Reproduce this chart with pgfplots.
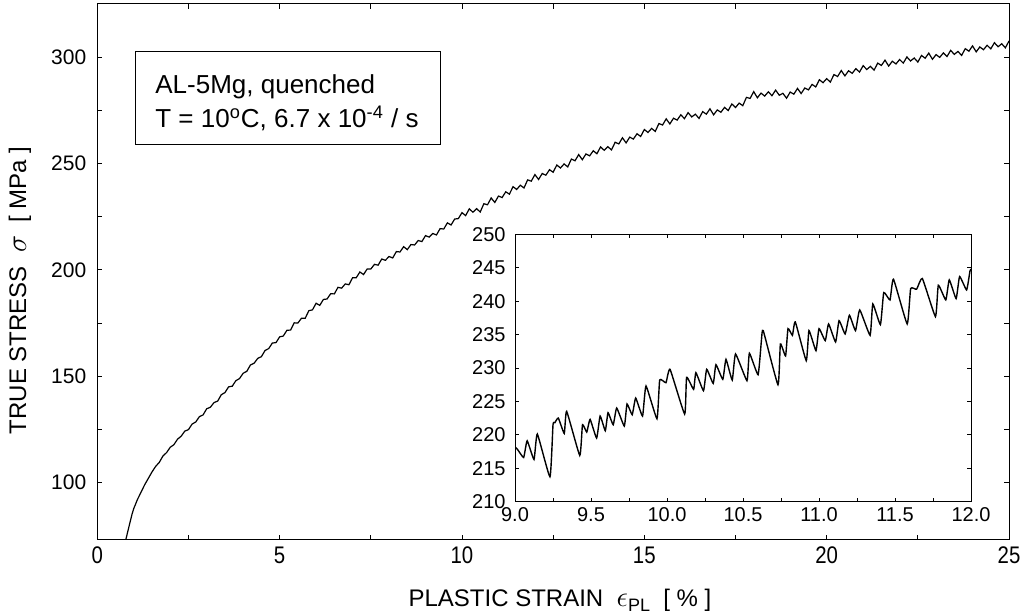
\documentclass[border=0pt]{standalone}
\usepackage{fontspec}
\setmainfont{Liberation Sans}
\usepackage{graphicx}
\usepackage{pgfplots}
\pgfplotsset{compat=1.18}

\begin{document}
\begin{tikzpicture}
\useasboundingbox (-48.65pt,-37pt) rectangle (466.85pt,270pt);
% main stress-strain curve
\begin{axis}[
  at={(0pt,0pt)}, anchor=south west,
  scale only axis, width=455.85pt, height=268pt,
  xmin=0, xmax=25, ymin=73, ymax=325,
  xtick={0,5,...,25}, ytick={100,150,...,300},
  minor x tick num=1, minor y tick num=1,
  tick align=inside, major tick length=2.5pt, minor tick length=2.5pt,
  every tick/.style={black, line width=0.4pt},
  axis line style={line width=0.5pt},
  /pgf/number format/assume math mode=true,
  yticklabel style={font=\fontsize{10.5}{12}\selectfont, xshift=-2pt},
  xticklabel={\scalebox{0.85}[1]{\pgfmathprintnumber{\tick}}},
  xticklabel style={font=\fontsize{12}{14}\selectfont},
  xlabel={PLASTIC STRAIN~~{\fontsize{14}{14}\selectfont$\epsilon$}\raisebox{-0.4ex}{\fontsize{9}{10}\selectfont PL}~~[ \% ]},
  ylabel={TRUE STRESS~~{\fontsize{15}{15}\selectfont$\sigma$}~~[ MPa ]},
  xlabel style={at={(axis description cs:0.5075,-0.112)}, anchor=center, font=\fontsize{12}{14}\selectfont},
  ylabel style={at={(axis description cs:-0.0848,0.466)}, anchor=center, font=\fontsize{12}{14}\selectfont},
]
\addplot[black, line width=0.6pt] table {
0.78 73
0.85 78
0.90 81.5
0.95 85
1.00 87.8
1.10 92
1.20 95.5
1.30 99
1.40 102
1.50 105
1.6 107.6
1.7 109.5
1.8 112.5
1.9 114.1
2.0 116.6
2.1 117.8
2.2 120.4
2.3 121.8
2.4 124.2
2.5 124.9
2.6 127.5
2.7 128.5
2.8 131.0
2.9 131.8
3.0 134.7
3.1 135.4
3.2 137.6
3.3 138.3
3.4 141.3
3.5 142.3
3.6 145.0
3.7 145.3
3.8 147.9
3.9 148.9
4.0 151.4
4.1 152.3
4.2 155.3
4.3 156.1
4.4 158.4
4.5 159.2
4.6 162.1
4.7 163.0
4.8 165.6
4.9 165.8
5.0 168.5
5.1 168.9
5.2 171.6
5.3 171.7
5.4 175.1
5.5 175.0
5.6 177.3
5.7 177.2
5.8 180.8
5.9 181.2
6.0 184.3
6.1 183.3
6.2 186.1
6.3 186.3
6.4 188.8
6.5 188.7
6.6 191.8
6.7 191.4
6.8 193.4
6.9 193.0
7.0 196.3
7.1 196.3
7.2 199.0
7.3 197.8
7.4 200.4
7.5 200.4
7.6 202.6
7.7 202.2
7.8 205.1
7.9 204.5
8.0 206.3
8.1 205.6
8.2 208.6
8.3 208.4
8.4 210.9
8.5 209.5
8.6 211.9
8.7 211.7
8.8 213.8
8.9 213.3
9.0 216.1
9.1 215.4
9.2 217.1
9.3 216.4
9.4 219.4
9.5 219.2
9.6 222.1
9.7 221.1
9.8 223.9
9.9 224.1
10.0 226.9
10.1 225.5
10.2 228.7
10.3 227.1
10.4 228.8
10.5 227.2
10.6 231.1
10.7 230.6
10.8 233.8
10.9 231.7
11.0 234.7
11.1 234.0
11.2 236.7
11.3 235.6
11.4 239.1
11.5 237.8
11.6 239.8
11.7 238.5
11.8 242.3
11.9 241.7
12.0 244.8
12.1 242.5
12.2 245.3
12.3 244.5
12.4 247.1
12.5 245.9
12.6 249.3
12.7 247.9
12.8 249.8
12.9 248.4
13.0 252.1
13.1 251.3
13.2 254.2
13.3 251.8
13.4 254.5
13.5 253.6
13.6 256.0
13.7 254.6
13.8 257.8
13.9 256.2
14.0 257.9
14.1 256.4
14.2 260.0
14.3 259.2
14.4 262.1
14.5 259.7
14.6 262.4
14.7 261.5
14.8 264.0
14.9 262.7
15.0 266.0
15.1 264.6
15.2 266.5
15.3 265.1
15.4 268.8
15.5 268.1
15.6 271.0
15.7 268.6
15.8 271.3
15.9 270.4
16.0 272.9
16.1 271.1
16.2 273.9
16.3 271.9
16.4 273.2
16.5 271.2
16.6 274.4
16.7 273.2
16.8 275.7
16.9 272.9
17.0 275.2
17.1 274.1
17.2 276.4
17.3 274.9
17.4 278.0
17.5 276.3
17.6 278.4
17.7 277.2
17.8 281.1
17.9 280.6
18.0 283.8
18.1 280.9
18.2 283.1
18.3 281.7
18.4 283.7
18.5 281.9
18.6 284.5
18.7 282.1
18.8 283.0
18.9 280.7
19.0 283.6
19.1 282.6
19.2 285.3
19.3 282.9
19.4 285.5
19.5 284.6
19.6 287.2
19.7 286.0
19.8 289.4
19.9 288.0
20.0 289.9
20.1 288.3
20.2 291.8
20.3 290.9
20.4 293.7
20.5 291.2
20.6 293.6
20.7 292.4
20.8 294.6
20.9 293.0
21.0 296.0
21.1 294.2
21.2 295.7
21.3 293.9
21.4 297.2
21.5 296.1
21.6 298.6
21.7 295.8
21.8 298.1
21.9 296.8
22.0 298.9
22.1 297.2
22.2 300.1
22.3 298.2
22.4 299.6
22.5 297.7
22.6 300.8
22.7 299.5
22.8 301.9
22.9 299.0
23.0 301.2
23.1 299.9
23.2 302.0
23.3 300.3
23.4 303.2
23.5 301.3
23.6 302.7
23.7 300.8
23.8 304.0
23.9 302.8
24.0 305.3
24.1 302.5
24.2 304.8
24.3 303.5
24.4 305.6
24.5 303.9
24.6 306.8
24.7 304.9
24.8 306.3
24.9 304.4
25.0 307.6
};
\end{axis}

% text box
\draw[line width=0.5pt] (18.85pt,197.5pt) rectangle (171.35pt,244.15pt);
\node[anchor=base west, inner sep=0pt, font=\fontsize{13}{15}\selectfont] at (28.85pt,223.35pt) {AL-5Mg, quenched};
\node[anchor=base west, inner sep=0pt, font=\fontsize{13}{15}\selectfont] at (28.85pt,206.2pt) {T = 10\textsuperscript{o}C, 6.7 x 10\textsuperscript{-4} / s};

% inset: serrations between 9 and 12 %
\begin{axis}[
  at={(208.85pt,19.25pt)}, anchor=south west,
  scale only axis, width=228pt, height=133.5pt,
  xmin=9, xmax=12, ymin=210, ymax=250,
  xtick={9,9.5,...,12}, ytick={210,215,...,250},
  minor x tick num=1,
  tick align=inside, major tick length=1.8pt, minor tick length=1.8pt,
  every tick/.style={black, line width=0.4pt},
  axis line style={line width=0.5pt},
  axis background/.style={fill=white},
  /pgf/number format/assume math mode=true,
  ticklabel style={font=\fontsize{10}{12}\selectfont},
  yticklabel style={inner sep=1.5pt, xshift=-3pt},
  xticklabel style={inner sep=1.5pt, yshift=-1.5pt, /pgf/number format/fixed, /pgf/number format/fixed zerofill, /pgf/number format/precision=1},
]
\addplot[black, line width=0.7pt, smooth, tension=0.25] table {
9.000 218.2
9.020 217.7
9.057 216.6
9.080 219.1
9.125 216.3
9.147 220.1
9.230 213.7
9.250 221.5
9.262 221.8
9.285 222.5
9.324 220.2
9.340 223.5
9.426 216.9
9.444 221.5
9.472 220.4
9.494 222.3
9.537 219.5
9.560 222.8
9.594 220.6
9.612 223.3
9.646 221.5
9.669 224.0
9.719 221.3
9.737 224.6
9.771 223.0
9.794 225.5
9.839 222.8
9.862 227.3
9.934 222.4
9.952 228.2
9.993 227.8
10.020 229.8
10.116 223.1
10.129 228.6
10.175 226.8
10.190 229.3
10.240 226.6
10.261 229.8
10.304 227.7
10.322 230.5
10.367 228.3
10.388 231.3
10.429 228.2
10.451 232.1
10.526 228.1
10.542 232.2
10.599 229.0
10.621 234.1
10.633 235.6
10.730 227.5
10.746 233.6
10.780 231.8
10.796 235.9
10.825 234.9
10.844 236.9
10.916 231.1
10.934 235.6
10.980 232.6
11.000 235.9
11.041 234.1
11.063 236.6
11.109 233.9
11.132 237.1
11.172 235.1
11.200 237.9
11.240 235.6
11.268 238.7
11.336 234.9
11.354 239.6
11.404 236.5
11.426 241.3
11.467 240.2
11.490 243.3
11.580 236.6
11.603 241.9
11.642 241.8
11.680 243.4
11.766 237.7
11.785 242.4
11.834 240.2
11.857 243.2
11.902 240.4
11.925 243.7
11.971 241.7
11.993 244.5
12.000 244.8
};
\end{axis}
\end{tikzpicture}
\end{document}
